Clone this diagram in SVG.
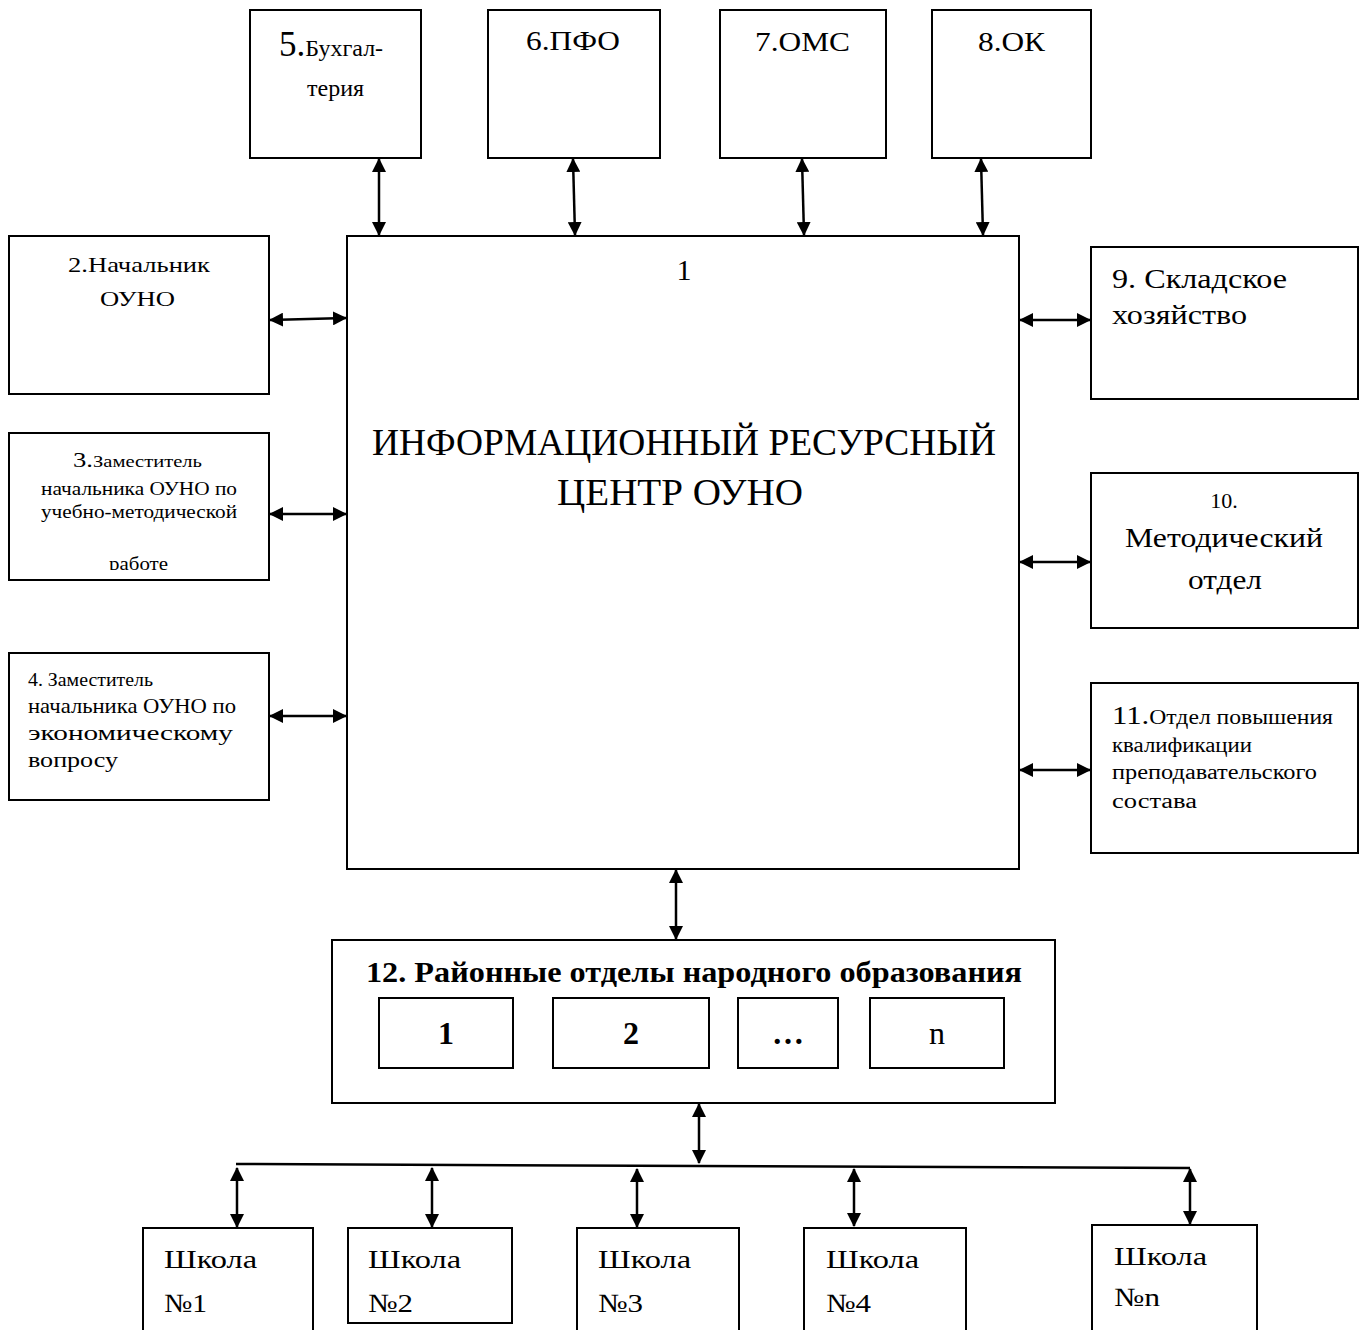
<svg xmlns="http://www.w3.org/2000/svg" width="1363" height="1330" viewBox="0 0 1363 1330">
<style>
.box{fill:#fff;stroke:#000;stroke-width:2}
.t{font-family:"Liberation Serif","Times New Roman",serif;fill:#000}
.b{font-weight:bold}
.c{text-anchor:middle}
.con{stroke:#000;stroke-width:2.5;fill:none}
.arr{stroke:#000;stroke-width:2.5;fill:none;marker-start:url(#ah);marker-end:url(#ah)}
</style>
<defs>
<marker id="ah" viewBox="0 0 14 14" refX="13" refY="7" markerWidth="14" markerHeight="14" markerUnits="userSpaceOnUse" orient="auto-start-reverse">
<path d="M0,0 L14,7 L0,14 Z" fill="#000"/>
</marker>
<clipPath id="clip3"><rect x="9" y="434" width="259" height="136"/></clipPath>
</defs>
<rect width="1363" height="1330" fill="#fff"/>

<g id="node1">
<rect class="box" x="347" y="236" width="672" height="633"/>
<text class="t c" x="684" y="280" font-size="30">1</text>
<text class="t" x="372" y="455" font-size="37" textLength="624" lengthAdjust="spacingAndGlyphs">ИНФОРМАЦИОННЫЙ РЕСУРСНЫЙ</text>
<text class="t" x="557" y="505" font-size="37" textLength="246" lengthAdjust="spacingAndGlyphs">ЦЕНТР ОУНО</text>
</g>

<g id="node5">
<rect class="box" x="250" y="10" width="171" height="148"/>
<text class="t" x="279" y="56"><tspan font-size="35">5.</tspan><tspan font-size="24">Бухгал-</tspan></text>
<text class="t" x="307" y="96" font-size="24">терия</text>
</g>
<g id="node6">
<rect class="box" x="488" y="10" width="172" height="148"/>
<text class="t" x="526" y="50" font-size="28" textLength="94" lengthAdjust="spacingAndGlyphs">6.ПФО</text>
</g>
<g id="node7">
<rect class="box" x="720" y="10" width="166" height="148"/>
<text class="t" x="755" y="51" font-size="28" textLength="95" lengthAdjust="spacingAndGlyphs">7.ОМС</text>
</g>
<g id="node8">
<rect class="box" x="932" y="10" width="159" height="148"/>
<text class="t" x="978" y="51" font-size="28" textLength="67" lengthAdjust="spacingAndGlyphs">8.ОК</text>
</g>

<g id="node2">
<rect class="box" x="9" y="236" width="260" height="158"/>
<text class="t" x="68" y="272" font-size="21" textLength="142" lengthAdjust="spacingAndGlyphs">2.Начальник</text>
<text class="t" x="100" y="306" font-size="21" textLength="75" lengthAdjust="spacingAndGlyphs">ОУНО</text>
</g>
<g id="node3">
<rect class="box" x="9" y="433" width="260" height="147"/>
<g clip-path="url(#clip3)">
<text class="t" x="73" y="467" textLength="129" lengthAdjust="spacingAndGlyphs"><tspan font-size="22">3.</tspan><tspan font-size="17">Заместитель</tspan></text>
<text class="t" x="41" y="495" font-size="19" textLength="196" lengthAdjust="spacingAndGlyphs">начальника ОУНО по</text>
<text class="t" x="41" y="518" font-size="19" textLength="196" lengthAdjust="spacingAndGlyphs">учебно-методической</text>
<text class="t" x="109" y="570" font-size="19" textLength="59" lengthAdjust="spacingAndGlyphs">работе</text>
</g>
</g>
<g id="node4">
<rect class="box" x="9" y="653" width="260" height="147"/>
<text class="t" x="28" y="686" font-size="18" textLength="125" lengthAdjust="spacingAndGlyphs">4. Заместитель</text>
<text class="t" x="28" y="713" font-size="21" textLength="208" lengthAdjust="spacingAndGlyphs">начальника ОУНО по</text>
<text class="t" x="28" y="740" font-size="21" textLength="205" lengthAdjust="spacingAndGlyphs">экономическому</text>
<text class="t" x="28" y="767" font-size="21" textLength="90" lengthAdjust="spacingAndGlyphs">вопросу</text>
</g>

<g id="node9">
<rect class="box" x="1091" y="247" width="267" height="152"/>
<text class="t" x="1112" y="288" font-size="28" textLength="175" lengthAdjust="spacingAndGlyphs">9. Складское</text>
<text class="t" x="1112" y="324" font-size="28" textLength="135" lengthAdjust="spacingAndGlyphs">хозяйство</text>
</g>
<g id="node10">
<rect class="box" x="1091" y="473" width="267" height="155"/>
<text class="t c" x="1224" y="508" font-size="22">10.</text>
<text class="t" x="1125" y="547" font-size="28" textLength="198" lengthAdjust="spacingAndGlyphs">Методический</text>
<text class="t" x="1188" y="589" font-size="28" textLength="74" lengthAdjust="spacingAndGlyphs">отдел</text>
</g>
<g id="node11">
<rect class="box" x="1091" y="683" width="267" height="170"/>
<text class="t" x="1112" y="724" textLength="221" lengthAdjust="spacingAndGlyphs"><tspan font-size="26">11.</tspan><tspan font-size="20">Отдел повышения</tspan></text>
<text class="t" x="1112" y="752" font-size="20" textLength="140" lengthAdjust="spacingAndGlyphs">квалификации</text>
<text class="t" x="1112" y="779" font-size="20" textLength="205" lengthAdjust="spacingAndGlyphs">преподавательского</text>
<text class="t" x="1112" y="808" font-size="20" textLength="85" lengthAdjust="spacingAndGlyphs">состава</text>
</g>

<g id="node12">
<rect class="box" x="332" y="940" width="723" height="163"/>
<text class="t b" x="366" y="982" font-size="29" textLength="656" lengthAdjust="spacingAndGlyphs">12. Районные отделы народного образования</text>
<rect class="box" x="379" y="998" width="134" height="70"/>
<text class="t b c" x="446" y="1044" font-size="32">1</text>
<rect class="box" x="553" y="998" width="156" height="70"/>
<text class="t b c" x="631" y="1044" font-size="32">2</text>
<rect class="box" x="738" y="998" width="100" height="70"/>
<text class="t b c" x="788" y="1044" font-size="32">…</text>
<rect class="box" x="870" y="998" width="134" height="70"/>
<text class="t c" x="937" y="1044" font-size="32">n</text>
</g>

<g id="school1">
<rect class="box" x="143" y="1228" width="170" height="110"/>
<text class="t" x="164" y="1268" font-size="26" textLength="93" lengthAdjust="spacingAndGlyphs">Школа</text>
<text class="t" x="164" y="1312" font-size="26" textLength="43" lengthAdjust="spacingAndGlyphs">№1</text>
</g>
<g id="school2">
<rect class="box" x="348" y="1228" width="164" height="95"/>
<text class="t" x="368" y="1268" font-size="26" textLength="93" lengthAdjust="spacingAndGlyphs">Школа</text>
<text class="t" x="368" y="1312" font-size="26" textLength="45" lengthAdjust="spacingAndGlyphs">№2</text>
</g>
<g id="school3">
<rect class="box" x="577" y="1228" width="162" height="110"/>
<text class="t" x="598" y="1268" font-size="26" textLength="93" lengthAdjust="spacingAndGlyphs">Школа</text>
<text class="t" x="598" y="1312" font-size="26" textLength="45" lengthAdjust="spacingAndGlyphs">№3</text>
</g>
<g id="school4">
<rect class="box" x="804" y="1228" width="162" height="110"/>
<text class="t" x="826" y="1268" font-size="26" textLength="93" lengthAdjust="spacingAndGlyphs">Школа</text>
<text class="t" x="826" y="1312" font-size="26" textLength="45" lengthAdjust="spacingAndGlyphs">№4</text>
</g>
<g id="schoolN">
<rect class="box" x="1092" y="1225" width="165" height="110"/>
<text class="t" x="1114" y="1265" font-size="26" textLength="93" lengthAdjust="spacingAndGlyphs">Школа</text>
<text class="t" x="1114" y="1306" font-size="26" textLength="46" lengthAdjust="spacingAndGlyphs">№n</text>
</g>

<g id="connectors">
<line class="arr" x1="379" y1="159" x2="379" y2="235"/>
<line class="arr" x1="573" y1="159" x2="575" y2="235"/>
<line class="arr" x1="802" y1="159" x2="804" y2="235"/>
<line class="arr" x1="981" y1="159" x2="983" y2="235"/>
<line class="arr" x1="270" y1="320" x2="346" y2="318"/>
<line class="arr" x1="270" y1="514" x2="346" y2="514"/>
<line class="arr" x1="270" y1="716" x2="346" y2="716"/>
<line class="arr" x1="1020" y1="320" x2="1090" y2="320"/>
<line class="arr" x1="1020" y1="562" x2="1090" y2="562"/>
<line class="arr" x1="1020" y1="770" x2="1090" y2="770"/>
<line class="arr" x1="676" y1="870" x2="676" y2="939"/>
<line class="arr" x1="699" y1="1104" x2="699" y2="1163"/>
<line class="con" x1="236" y1="1164" x2="1190" y2="1168"/>
<line class="arr" x1="237" y1="1168" x2="237" y2="1227"/>
<line class="arr" x1="432" y1="1168" x2="432" y2="1227"/>
<line class="arr" x1="637" y1="1169" x2="637" y2="1227"/>
<line class="arr" x1="854" y1="1169" x2="854" y2="1226"/>
<line class="arr" x1="1190" y1="1169" x2="1190" y2="1224"/>
</g>
</svg>
